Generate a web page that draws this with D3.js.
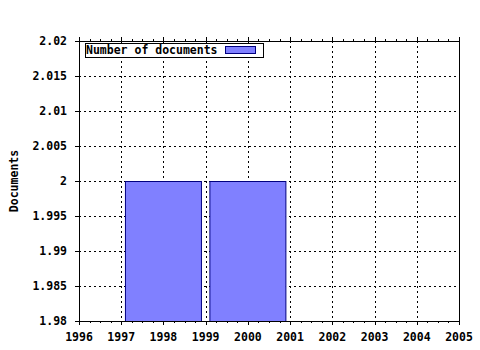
<!DOCTYPE html>
<meta charset="utf-8">
<style>
 body { margin: 0; background: #fff; }
 text { font-family: 'DejaVu Sans Mono', monospace; font-weight: bold; font-size: 11.5px; fill: #000; }
 .grid line { stroke: #000; stroke-dasharray: 2,3; shape-rendering: crispEdges; }
</style>
<body>
<script src="https://cdn.jsdelivr.net/npm/d3@7"></script>
<script>
 var years = [1998, 2000];
 var documents = [2, 2];
 var xTicks = [1996, 1997, 1998, 1999, 2000, 2001, 2002, 2003, 2004, 2005];
 var yTicks = [1.98, 1.985, 1.99, 1.995, 2, 2.005, 2.01, 2.015, 2.02];
 var legendLabel = "Number of documents";
 var yLabel = "Documents";

 var margin = {top: 41, right: 21, bottom: 29, left: 79},
     width = 480 - margin.left - margin.right,
     height = 350 - margin.top - margin.bottom;

 var svg = d3.select("body").append("svg")
             .attr("width", 480)
             .attr("height", 350)
             .append("g")
             .attr("transform", "translate(" + margin.left + "," + margin.top + ")");

 var xScale = d3.scaleLinear().domain([1996, 2005]).range([0, width]);
 var yScale = d3.scaleLinear().domain([1.98, 2.02]).range([height, 0]);

 // grid
 var grid = svg.append("g").attr("class", "grid");
 grid.selectAll(".vx")
     .data(xTicks.slice(1, -1))
     .enter().append("line")
     .attr("x1", d => Math.round(xScale(d)) + 0.5)
     .attr("x2", d => Math.round(xScale(d)) + 0.5)
     .attr("y1", 0).attr("y2", height);
 grid.selectAll(".hy")
     .data(yTicks.slice(1, -1))
     .enter().append("line")
     .attr("y1", d => Math.round(yScale(d)) + 0.5)
     .attr("y2", d => Math.round(yScale(d)) + 0.5)
     .attr("x1", 0).attr("x2", width);

 // bars
 var barW = 1.8;
 svg.selectAll(".bar")
    .data(years)
    .enter().append("rect")
    .attr("class", "bar")
    .attr("x", (d) => xScale(d - barW / 2))
    .attr("width", (d) => xScale(d + barW / 2) - xScale(d - barW / 2))
    .attr("y", (d, i) => yScale(documents[i]) + 0.5)
    .attr("height", (d, i) => height - yScale(documents[i]))
    .attr("fill", "#8080ff")
    .attr("stroke", "#000080")
    .attr("stroke-width", 1);

 // minor ticks every quarter year
 var minor = d3.range(1996, 2005.01, 0.25);
 var axes = svg.append("g")
               .attr("stroke", "#000")
               .attr("shape-rendering", "crispEdges");
 axes.selectAll(".mb")
     .data(minor)
     .enter().append("line")
     .attr("x1", d => Math.round(xScale(d)) + 0.5)
     .attr("x2", d => Math.round(xScale(d)) + 0.5)
     .attr("y1", height)
     .attr("y2", d => height + (xTicks.indexOf(d) >= 0 ? 4 : 2));
 axes.selectAll(".mt")
     .data(minor)
     .enter().append("line")
     .attr("x1", d => Math.round(xScale(d)) + 0.5)
     .attr("x2", d => Math.round(xScale(d)) + 0.5)
     .attr("y1", 0)
     .attr("y2", d => -(xTicks.indexOf(d) >= 0 ? 4 : 2));
 axes.selectAll(".yt")
     .data(yTicks)
     .enter().append("line")
     .attr("y1", d => Math.round(yScale(d)) + 0.5)
     .attr("y2", d => Math.round(yScale(d)) + 0.5)
     .attr("x1", -4).attr("x2", 0);

 // frame
 svg.append("rect")
    .attr("x", 0.5).attr("y", 0.5)
    .attr("width", width).attr("height", height)
    .attr("fill", "none")
    .attr("stroke", "#000")
    .attr("shape-rendering", "crispEdges");

 // tick labels
 svg.selectAll(".xl")
    .data(xTicks)
    .enter().append("text")
    .attr("x", d => xScale(d))
    .attr("y", height + 20)
    .attr("text-anchor", "middle")
    .text(d => d);
 svg.selectAll(".yl")
    .data(yTicks)
    .enter().append("text")
    .attr("x", -12)
    .attr("y", d => yScale(d) + 4)
    .attr("text-anchor", "end")
    .text(d => d3.format("~g")(d));

 // y label
 svg.append("text")
    .attr("transform", "rotate(-90)")
    .attr("x", -height / 2)
    .attr("y", -61)
    .attr("text-anchor", "middle")
    .text(yLabel);

 // legend
 var legend = svg.append("g").attr("transform", "translate(6,2)");
 legend.append("rect")
       .attr("x", 0.5).attr("y", 0.5)
       .attr("width", 178).attr("height", 14)
       .attr("fill", "#fff")
       .attr("stroke", "#000")
       .attr("shape-rendering", "crispEdges");
 legend.append("text")
       .attr("x", 1)
       .attr("y", 11)
       .text(legendLabel);
 legend.append("rect")
       .attr("x", 140.5).attr("y", 3.5)
       .attr("width", 30).attr("height", 7)
       .attr("fill", "#8080ff")
       .attr("stroke", "#000080")
       .attr("shape-rendering", "crispEdges");
</script>
